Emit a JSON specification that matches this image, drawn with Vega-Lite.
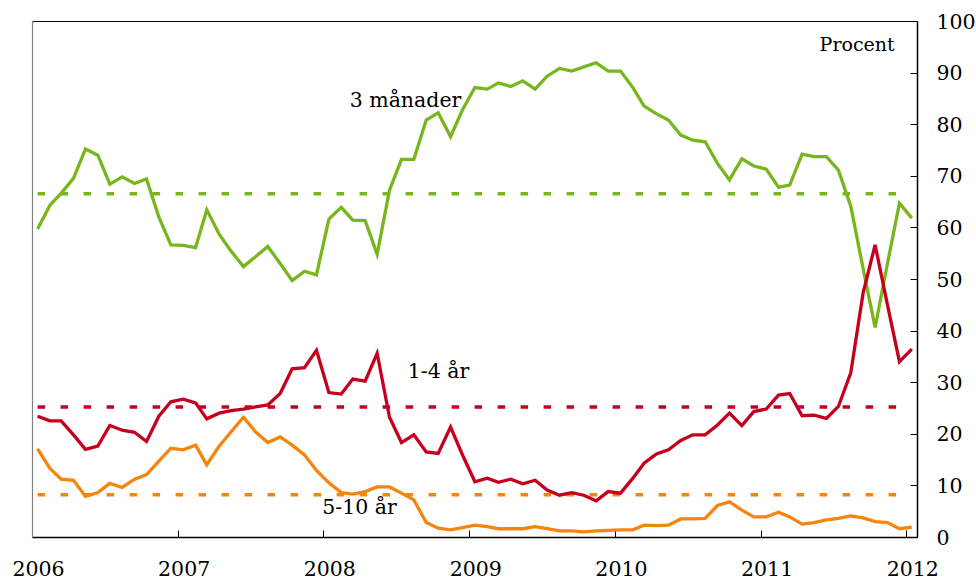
{
  "$schema": "https://vega.github.io/schema/vega-lite/v6.json",
  "width": 885,
  "height": 516,
  "autosize": {"type": "none"},
  "padding": {"left": 32, "top": 21, "right": 59, "bottom": 43},
  "background": "#ffffff",
  "config": {
    "view": {"stroke": null},
    "axis": {
      "grid": false,
      "domainColor": "#000000",
      "domainWidth": 1.5,
      "tickColor": "#000000",
      "tickWidth": 1,
      "labelFont": "DejaVu Serif",
      "labelFontSize": 20.5,
      "labelColor": "#000000",
      "title": null
    }
  },
  "datasets": {
    "series": [
      {"date": "2006-01-15", "g": 59.7, "r": 23.4, "o": 17.1},
      {"date": "2006-02-15", "g": 64.3, "r": 22.5, "o": 13.3},
      {"date": "2006-03-15", "g": 66.6, "r": 22.5, "o": 11.2},
      {"date": "2006-04-15", "g": 69.5, "r": 19.8, "o": 11.0},
      {"date": "2006-05-15", "g": 75.2, "r": 17.0, "o": 7.9},
      {"date": "2006-06-15", "g": 74.0, "r": 17.6, "o": 8.6},
      {"date": "2006-07-15", "g": 68.4, "r": 21.6, "o": 10.4},
      {"date": "2006-08-15", "g": 69.8, "r": 20.7, "o": 9.6},
      {"date": "2006-09-15", "g": 68.5, "r": 20.3, "o": 11.2},
      {"date": "2006-10-15", "g": 69.4, "r": 18.5, "o": 12.1},
      {"date": "2006-11-15", "g": 62.0, "r": 23.4, "o": 14.7},
      {"date": "2006-12-15", "g": 56.6, "r": 26.2, "o": 17.2},
      {"date": "2007-01-15", "g": 56.5, "r": 26.7, "o": 16.9},
      {"date": "2007-02-15", "g": 56.1, "r": 26.0, "o": 17.8},
      {"date": "2007-03-15", "g": 63.4, "r": 22.9, "o": 14.0},
      {"date": "2007-04-15", "g": 58.7, "r": 24.0, "o": 17.6},
      {"date": "2007-05-15", "g": 55.4, "r": 24.5, "o": 20.4},
      {"date": "2007-06-15", "g": 52.4, "r": 24.8, "o": 23.2},
      {"date": "2007-07-15", "g": 54.3, "r": 25.2, "o": 20.4},
      {"date": "2007-08-15", "g": 56.3, "r": 25.6, "o": 18.3},
      {"date": "2007-09-15", "g": 53.0, "r": 27.8, "o": 19.4},
      {"date": "2007-10-15", "g": 49.7, "r": 32.6, "o": 17.8},
      {"date": "2007-11-15", "g": 51.5, "r": 32.8, "o": 15.9},
      {"date": "2007-12-15", "g": 50.8, "r": 36.2, "o": 12.9},
      {"date": "2008-01-15", "g": 61.6, "r": 28.0, "o": 10.5},
      {"date": "2008-02-15", "g": 63.9, "r": 27.7, "o": 8.6},
      {"date": "2008-03-15", "g": 61.4, "r": 30.6, "o": 8.3},
      {"date": "2008-04-15", "g": 61.3, "r": 30.2, "o": 8.8},
      {"date": "2008-05-15", "g": 54.8, "r": 35.6, "o": 9.7},
      {"date": "2008-06-15", "g": 67.2, "r": 23.2, "o": 9.7},
      {"date": "2008-07-15", "g": 73.2, "r": 18.3, "o": 8.5},
      {"date": "2008-08-15", "g": 73.2, "r": 19.8, "o": 7.2},
      {"date": "2008-09-15", "g": 80.8, "r": 16.5, "o": 2.8},
      {"date": "2008-10-15", "g": 82.2, "r": 16.2, "o": 1.7},
      {"date": "2008-11-15", "g": 77.6, "r": 21.3, "o": 1.4},
      {"date": "2008-12-15", "g": 82.8, "r": 15.9, "o": 1.8},
      {"date": "2009-01-15", "g": 87.1, "r": 10.7, "o": 2.3},
      {"date": "2009-02-15", "g": 86.8, "r": 11.4, "o": 2.0},
      {"date": "2009-03-15", "g": 88.0, "r": 10.6, "o": 1.6},
      {"date": "2009-04-15", "g": 87.3, "r": 11.2, "o": 1.6},
      {"date": "2009-05-15", "g": 88.4, "r": 10.3, "o": 1.6},
      {"date": "2009-06-15", "g": 86.8, "r": 11.0, "o": 2.0},
      {"date": "2009-07-15", "g": 89.3, "r": 9.1, "o": 1.6},
      {"date": "2009-08-15", "g": 90.8, "r": 8.1, "o": 1.2},
      {"date": "2009-09-15", "g": 90.3, "r": 8.6, "o": 1.2},
      {"date": "2009-10-15", "g": 91.1, "r": 8.1, "o": 1.0},
      {"date": "2009-11-15", "g": 91.9, "r": 7.0, "o": 1.2},
      {"date": "2009-12-15", "g": 90.3, "r": 8.8, "o": 1.3},
      {"date": "2010-01-15", "g": 90.3, "r": 8.5, "o": 1.4},
      {"date": "2010-02-15", "g": 87.1, "r": 11.4, "o": 1.4},
      {"date": "2010-03-15", "g": 83.5, "r": 14.3, "o": 2.3},
      {"date": "2010-04-15", "g": 82.0, "r": 16.1, "o": 2.2},
      {"date": "2010-05-15", "g": 80.8, "r": 16.9, "o": 2.3},
      {"date": "2010-06-15", "g": 77.9, "r": 18.7, "o": 3.5},
      {"date": "2010-07-15", "g": 76.9, "r": 19.8, "o": 3.5},
      {"date": "2010-08-15", "g": 76.6, "r": 19.8, "o": 3.6},
      {"date": "2010-09-15", "g": 72.4, "r": 21.7, "o": 6.1},
      {"date": "2010-10-15", "g": 69.2, "r": 24.0, "o": 6.8},
      {"date": "2010-11-15", "g": 73.3, "r": 21.6, "o": 5.2},
      {"date": "2010-12-15", "g": 71.9, "r": 24.3, "o": 3.9},
      {"date": "2011-01-15", "g": 71.3, "r": 24.8, "o": 3.9},
      {"date": "2011-02-15", "g": 67.8, "r": 27.5, "o": 4.8},
      {"date": "2011-03-15", "g": 68.2, "r": 27.8, "o": 3.9},
      {"date": "2011-04-15", "g": 74.2, "r": 23.5, "o": 2.5},
      {"date": "2011-05-15", "g": 73.7, "r": 23.6, "o": 2.8},
      {"date": "2011-06-15", "g": 73.7, "r": 23.0, "o": 3.3},
      {"date": "2011-07-15", "g": 71.1, "r": 25.3, "o": 3.6},
      {"date": "2011-08-15", "g": 64.1, "r": 31.8, "o": 4.1},
      {"date": "2011-09-15", "g": 52.0, "r": 47.3, "o": 3.7},
      {"date": "2011-10-15", "g": 40.6, "r": 56.6, "o": 3.0},
      {"date": "2011-11-15", "g": 53.0, "r": 45.0, "o": 2.8},
      {"date": "2011-12-15", "g": 64.7, "r": 34.0, "o": 1.6},
      {"date": "2012-01-15", "g": 61.8, "r": 36.4, "o": 1.9}
    ],
    "means": [
      {"series": "g", "start": "2006-01-15", "end": "2011-12-20", "mean": 66.5},
      {"series": "r", "start": "2006-01-15", "end": "2011-12-20", "mean": 25.2},
      {"series": "o", "start": "2006-01-15", "end": "2011-12-20", "mean": 8.2}
    ],
    "labels": [
      {"text": "3 månader", "date": "2008-07-25", "value": 83.3},
      {"text": "1-4 år", "date": "2008-10-16", "value": 30.8},
      {"text": "5-10 år", "date": "2008-04-01", "value": 4.4}
    ],
    "unit": [
      {"text": "Procent", "date": "2011-08-31", "value": 94.1}
    ]
  },
  "resolve": {"axis": {"x": "independent", "y": "independent"}},
  "layer": [
    {
      "data": {"name": "means"},
      "mark": {"type": "rule", "strokeWidth": 3.5, "strokeDash": [7.5, 15.5]},
      "encoding": {
        "x": {"field": "start", "type": "temporal", "axis": null},
        "x2": {"field": "end"},
        "y": {"field": "mean", "type": "quantitative", "axis": null},
        "color": {
          "field": "series",
          "type": "nominal",
          "scale": {"domain": ["g", "r", "o"], "range": ["#79b51c", "#c5001f", "#f5850f"]},
          "legend": null
        }
      }
    },
    {
      "data": {"name": "series"},
      "transform": [{"fold": ["g", "r", "o"], "as": ["series", "value"]}],
      "mark": {"type": "line", "strokeWidth": 3.3, "strokeJoin": "miter"},
      "encoding": {
        "x": {
          "field": "date",
          "type": "temporal",
          "scale": {"domain": [{"year": 2006, "month": 1, "date": 1}, {"year": 2012, "month": 1, "date": 28}]},
          "axis": {
            "format": "%Y",
            "tickCount": {"interval": "year", "step": 1},
            "labelAngle": 0,
            "tickSize": -7,
            "labelBaseline": "alphabetic",
            "labelPadding": 45,
            "labelOffset": 6,
            "labelFlush": false,
            "labelOverlap": false
          }
        },
        "y": {
          "field": "value",
          "type": "quantitative",
          "scale": {"domain": [0, 100], "nice": false},
          "axis": {
            "orient": "right",
            "values": [0, 10, 20, 30, 40, 50, 60, 70, 80, 90, 100],
            "tickSize": -7,
            "labelPadding": 26,
            "labelOffset": 1,
            "labelFlush": false,
            "labelBaseline": "middle"
          }
        },
        "color": {"field": "series", "type": "nominal", "legend": null}
      }
    },
    {
      "data": {"name": "labels"},
      "mark": {"type": "text", "font": "DejaVu Serif", "fontSize": 20.5, "baseline": "alphabetic", "align": "center", "color": "#000000"},
      "encoding": {
        "x": {"field": "date", "type": "temporal", "axis": {"orient": "top", "labels": false, "ticks": false, "domainColor": "#000000", "domainWidth": 1.2}},
        "y": {"field": "value", "type": "quantitative", "axis": {"orient": "left", "labels": false, "ticks": false, "domainColor": "#808080", "domainWidth": 1.2}},
        "text": {"field": "text"}
      }
    },
    {
      "data": {"name": "unit"},
      "mark": {"type": "text", "font": "DejaVu Serif", "fontSize": 19, "baseline": "alphabetic", "align": "center", "color": "#000000"},
      "encoding": {
        "x": {"field": "date", "type": "temporal", "axis": null},
        "y": {"field": "value", "type": "quantitative", "axis": null},
        "text": {"field": "text"}
      }
    }
  ]
}
